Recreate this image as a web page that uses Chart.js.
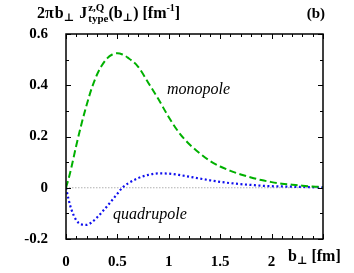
<!DOCTYPE html>
<html>
<head>
<meta charset="utf-8">
<script src="https://cdn.jsdelivr.net/npm/chart.js@4/dist/chart.umd.min.js"></script>
<style>
  html, body { margin: 0; padding: 0; background: #fff; }
  #wrap { width: 354px; height: 273px; }
</style>
</head>
<body>
<div id="wrap"><canvas id="c" width="354" height="273"></canvas></div>
<script>
const bValues = [0, 0.025, 0.05, 0.1, 0.15, 0.2, 0.25, 0.3, 0.35, 0.4, 0.45, 0.5, 0.55, 0.6, 0.7, 0.8, 0.9, 1.0,
  1.1, 1.2, 1.3, 1.4, 1.5, 1.6, 1.7, 1.8, 1.9, 2.0, 2.1, 2.2, 2.3, 2.4, 2.5];
const monopole = [0, 0.035, 0.075, 0.165, 0.248, 0.322, 0.388, 0.44, 0.478, 0.505, 0.52, 0.525, 0.52, 0.508, 0.473, 0.41,
  0.345, 0.275, 0.215, 0.17, 0.135, 0.105, 0.083, 0.066, 0.052, 0.04, 0.03, 0.022, 0.016, 0.012, 0.008, 0.005, 0.003];
const quadrupole = [0, -0.045, -0.082, -0.127, -0.143, -0.145, -0.135, -0.117, -0.095, -0.072, -0.048, -0.023, 0.001,
  0.016, 0.037, 0.05, 0.056, 0.055, 0.05, 0.043, 0.036, 0.029, 0.023, 0.018, 0.014, 0.011, 0.008, 0.006, 0.005,
  0.004, 0.003, 0.002, 0.001];
const xTicks = [0, 0.5, 1, 1.5, 2];
const yTicks = [-0.2, 0, 0.2, 0.4, 0.6];

const serif = '"Liberation Serif", "DejaVu Serif", serif';

function pts(ys) {
  return bValues.map((b, i) => ({ x: b, y: ys[i] }));
}

// draws a run of text pieces one after another
function drawRun(ctx, x, y, parts) {
  parts.forEach(p => {
    if (p.stack) {
      ctx.font = 'bold ' + p.size + 'px ' + serif;
      ctx.fillText(p.sup, x, y - p.up);
      ctx.fillText(p.sub, x, y + p.down);
      x += Math.max(ctx.measureText(p.sup).width, ctx.measureText(p.sub).width) + (p.gap || 0);
      return;
    }
    ctx.font = 'bold ' + p.size + 'px ' + serif;
    ctx.fillText(p.t, x, y + (p.dy || 0));
    x += ctx.measureText(p.t).width + (p.gap || 0);
  });
}

const decor = {
  id: 'decor',
  beforeDatasetsDraw(chart) {
    const ctx = chart.ctx, a = chart.chartArea, ys = chart.scales.y;
    const y0 = ys.getPixelForValue(0);
    ctx.save();
    ctx.strokeStyle = '#b0b0b0';
    ctx.lineWidth = 1;
    ctx.setLineDash([1.5, 1.5]);
    ctx.beginPath();
    ctx.moveTo(a.left, y0);
    ctx.lineTo(a.right, y0);
    ctx.stroke();
    ctx.restore();
  },
  afterDraw(chart) {
    const ctx = chart.ctx, a = chart.chartArea;
    const xs = chart.scales.x, ys = chart.scales.y;
    ctx.save();
    ctx.strokeStyle = '#000';
    ctx.lineWidth = 1.5;
    ctx.strokeRect(a.left, a.top, a.right - a.left, a.bottom - a.top);
    ctx.lineWidth = 1;
    ctx.beginPath();
    for (let i = 0; i <= 25; i++) {
      const px = Math.round(xs.getPixelForValue(i / 10)) + 0.5;
      const len = i % 5 === 0 ? 5 : 3;
      ctx.moveTo(px, a.bottom); ctx.lineTo(px, a.bottom - len);
      ctx.moveTo(px, a.top); ctx.lineTo(px, a.top + len);
    }
    for (let i = -2; i <= 6; i++) {
      const py = Math.round(ys.getPixelForValue(i / 10)) + 0.5;
      const len = i % 2 === 0 ? 5 : 3;
      ctx.moveTo(a.left, py); ctx.lineTo(a.left + len, py);
      ctx.moveTo(a.right, py); ctx.lineTo(a.right - len, py);
    }
    ctx.stroke();

    ctx.fillStyle = '#000';
    ctx.textBaseline = 'alphabetic';
    ctx.textAlign = 'left';
    // title
    drawRun(ctx, 37, 18, [
      { t: '2\u03C0', size: 16, gap: 1 },
      { t: 'b', size: 16 },
      { t: '\u22A5', size: 11, dy: 3, gap: 5 },
      { t: 'J', size: 16, gap: 1 },
      { stack: true, sup: 'z,Q', sub: 'type', size: 11, up: 7, down: 4 },
      { t: '(b', size: 16 },
      { t: '\u22A5', size: 11, dy: 3 },
      { t: ') [fm', size: 16 },
      { t: '-1', size: 10, dy: -7 },
      { t: ']', size: 16 }
    ]);
    ctx.font = 'bold 15px ' + serif;
    ctx.textAlign = 'right';
    ctx.fillText('(b)', 325, 18);
    ctx.textAlign = 'left';
    // x axis title
    drawRun(ctx, 288, 261, [
      { t: 'b', size: 16 },
      { t: '\u22A5', size: 11, dy: 3, gap: 4 },
      { t: '[fm]', size: 16 }
    ]);
    // curve labels
    ctx.font = 'italic 16px ' + serif;
    ctx.fillText('monopole', 167, 94);
    ctx.fillText('quadrupole', 113, 219);
    ctx.restore();
  }
};

new Chart(document.getElementById('c'), {
  type: 'line',
  data: {
    datasets: [
      {
        label: 'monopole',
        data: pts(monopole),
        borderColor: '#00b000',
        borderWidth: 2,
        borderDash: [7, 3.5],
        pointRadius: 0,
        cubicInterpolationMode: 'monotone',
        fill: false
      },
      {
        label: 'quadrupole',
        data: pts(quadrupole),
        borderColor: '#1010ee',
        borderWidth: 2.2,
        borderDash: [2, 2.5],
        pointRadius: 0,
        cubicInterpolationMode: 'monotone',
        fill: false
      }
    ]
  },
  options: {
    responsive: false,
    animation: false,
    layout: { padding: { left: 0, right: 31, top: 34, bottom: 0 } },
    plugins: { legend: { display: false }, tooltip: { enabled: false } },
    scales: {
      x: {
        type: 'linear',
        min: 0,
        max: 2.5,
        grid: { display: false },
        border: { display: false },
        afterBuildTicks: s => { s.ticks = xTicks.map(v => ({ value: v })); },
        afterFit: s => { s.height = 34; },
        ticks: {
          color: '#000',
          padding: 6,
          maxRotation: 0,
          font: { family: serif, size: 15, weight: 'bold' },
          callback: v => String(v)
        }
      },
      y: {
        min: -0.2,
        max: 0.6,
        grid: { display: false },
        border: { display: false },
        afterBuildTicks: s => { s.ticks = yTicks.map(v => ({ value: v })); },
        afterFit: s => { s.width = 66; },
        ticks: {
          color: '#000',
          padding: 10,
          font: { family: serif, size: 15, weight: 'bold' },
          callback: v => (Math.abs(v) < 1e-9 ? '0' : String(Math.round(v * 10) / 10))
        }
      }
    }
  },
  plugins: [decor]
});
</script>
</body>
</html>
